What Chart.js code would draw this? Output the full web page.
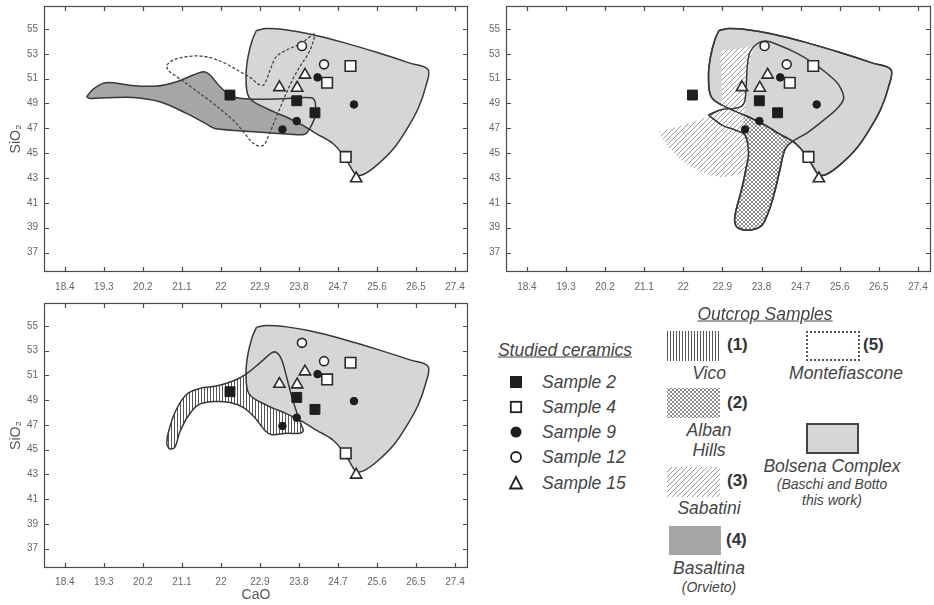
<!DOCTYPE html>
<html>
<head>
<meta charset="utf-8">
<script src="https://cdn.jsdelivr.net/npm/chart.js@4.4.1/dist/chart.umd.min.js"></script>
<style>
  body { margin: 0; background: #fff; width: 934px; height: 605px; position: relative; overflow: hidden;
         font-family: "Liberation Sans", Arial, sans-serif; }
  canvas { position: absolute; }
  .lg { position: absolute; color: #444; font-style: italic; white-space: nowrap; transform: translate(-50%, -50%); }
  .lft { transform: translate(0, -50%); }
  .hd { font-size: 17.5px; text-decoration: underline; }
  .it { font-size: 17.5px; }
  .sm { font-size: 14px; }
  .num { font-style: normal; font-weight: bold; font-size: 17px; color: #333; }
  .sw { position: absolute; box-sizing: border-box; }
</style>
</head>
<body>
<canvas id="c1" width="470" height="300" style="left:0;top:0"></canvas>
<canvas id="c2" width="472" height="300" style="left:462px;top:0"></canvas>
<canvas id="c3" width="470" height="305" style="left:0;top:300px"></canvas>
<div id="legend"></div>
<script>
// CaO (x) vs SiO2 (y) - studied ceramics against outcrop fields

const xTicks = [18.4, 19.3, 20.2, 21.1, 22, 22.9, 23.8, 24.7, 25.6, 26.5, 27.4];
const yTicks = [37, 39, 41, 43, 45, 47, 49, 51, 53, 55];

// studied ceramics [CaO, SiO2]
const sample2 = [[22.21, 49.68], [23.75, 49.22], [24.17, 48.25]];
const sample4 = [[24.99, 52.02], [24.45, 50.67], [24.88, 44.70]];
const sample9 = [[24.23, 51.10], [25.07, 48.92], [23.75, 47.58], [23.42, 46.91]];
const sample12 = [[23.87, 53.63], [24.38, 52.15]];
const sample15 = [[23.94, 51.30], [23.35, 50.30], [23.76, 50.25], [25.12, 42.96]];

// outcrop fields (outline vertices)
const bolsena = [[22.82, 54.88], [23.05, 55.03], [23.52, 54.92], [24.05, 54.6], [24.82, 53.92], [25.59, 53.12],
  [26.36, 52.25], [26.78, 51.72], [26.72, 50.3], [26.55, 48.6], [26.3, 47.0], [25.98, 45.35], [25.62, 44.1],
  [25.3, 43.3], [25.12, 43.25], [24.98, 43.95], [24.86, 44.65], [24.59, 45.76], [24.21, 46.56], [23.86, 47.3],
  [23.52, 47.89], [23.05, 48.6], [22.65, 49.5], [22.58, 51.23], [22.63, 52.84], [22.73, 54.17], [22.82, 54.88]];

const basaltina = [[18.90, 49.54], [19.05, 50.13], [19.28, 50.62], [19.52, 50.67], [19.90, 50.46], [20.52, 50.40],
  [20.98, 50.75], [21.36, 51.29], [21.61, 51.56], [21.75, 51.29], [21.98, 50.35], [22.28, 49.54], [22.75, 49.35],
  [23.44, 49.38], [24.09, 49.46], [24.18, 49.01], [24.17, 47.93], [24.05, 46.99], [23.94, 46.53], [23.59, 46.53],
  [22.75, 46.72], [21.86, 46.99], [21.71, 47.26], [21.21, 48.20], [20.59, 49.14], [19.98, 49.49], [19.36, 49.46],
  [18.98, 49.41], [18.90, 49.54]];

const montefiascone = [[20.75, 52.10], [20.90, 52.50], [21.21, 52.77], [21.52, 52.82], [21.82, 52.63], [22.13, 52.18],
  [22.44, 51.56], [22.71, 51.02], [22.86, 50.56], [22.98, 50.48], [23.05, 50.89], [23.15, 51.83], [23.28, 52.77],
  [23.52, 53.31], [23.78, 53.71], [23.98, 54.17], [24.15, 54.60], [24.13, 53.98], [24.02, 53.04], [23.82, 51.96],
  [23.63, 50.75], [23.44, 49.27], [23.25, 47.66], [23.09, 46.32], [22.99, 45.65], [22.86, 45.59], [22.71, 45.91],
  [22.55, 46.59], [22.28, 47.66], [21.82, 49.01], [21.36, 50.22], [20.98, 51.16], [20.78, 51.69], [20.75, 52.10]];

const vico = [[20.75, 45.46], [20.78, 46.27], [20.94, 48.00], [21.21, 49.47], [21.52, 49.95], [21.90, 50.14],
  [22.28, 50.54], [22.59, 51.13], [22.90, 52.01], [23.17, 52.81], [23.28, 52.86], [23.40, 52.28], [23.52, 50.81],
  [23.63, 49.34], [23.75, 48.00], [23.86, 46.93], [23.90, 46.53], [23.82, 46.32], [23.52, 46.32], [23.17, 46.21],
  [23.02, 46.53], [22.78, 47.60], [22.52, 48.40], [22.21, 48.80], [21.82, 48.88], [21.48, 48.62], [21.25, 47.74],
  [21.05, 46.40], [20.94, 45.20], [20.82, 45.06], [20.75, 45.46]];

const albanHills = [[22.58, 48.07], [22.89, 48.52], [23.16, 48.60], [23.35, 48.79], [23.42, 49.28], [23.45, 50.62],
  [23.48, 52.23], [23.54, 53.17], [23.69, 53.79], [23.89, 54.03], [24.19, 53.71], [24.62, 53.04], [25.00, 52.23],
  [25.35, 51.29], [25.58, 50.48], [25.69, 49.41], [25.54, 48.60], [25.23, 47.66], [24.85, 46.64], [24.50, 45.92],
  [24.34, 45.30], [24.22, 43.60], [24.07, 41.45], [23.92, 39.90], [23.78, 39.10], [23.50, 38.80], [23.25, 39.00],
  [23.18, 39.60], [23.22, 40.50], [23.35, 42.20], [23.45, 43.90], [23.50, 45.00], [23.42, 46.45], [23.19, 46.86],
  [22.89, 47.26], [22.58, 48.07]];

const sabatini = [[21.45, 46.72], [21.81, 47.07], [22.19, 47.45], [22.58, 48.01], [22.81, 48.42], [22.88, 49.01],
  [22.88, 51.16], [22.89, 53.17], [23.19, 53.36], [23.58, 53.44], [23.51, 52.23], [23.46, 50.35], [23.44, 49.01],
  [23.39, 47.88], [23.42, 46.45], [23.50, 45.65], [23.48, 44.44], [23.35, 43.50], [23.00, 43.09], [22.54, 43.31],
  [22.08, 44.11], [21.69, 45.38], [21.46, 46.45], [21.45, 46.72]];

const FONT = '"Liberation Sans", Arial, sans-serif';

// small pixel tiles for the hatched fields
function makePattern(kind) {
  const c = document.createElement('canvas');
  const s = kind === 'vert' ? 3 : (kind === 'cross' ? 4 : 5);
  c.width = s; c.height = s;
  const g = c.getContext('2d');
  g.fillStyle = '#fff';
  g.fillRect(0, 0, s, s);
  if (kind === 'vert') {
    g.fillStyle = '#555';
    g.fillRect(0, 0, 1, s);
  } else if (kind === 'cross') {
    g.fillStyle = '#8c8c8c';
    for (let i = 0; i < s; i++) {
      g.fillRect(i, i, 1, 1);
      g.fillRect(i, s - 1 - i, 1, 1);
    }
  } else {
    g.fillStyle = '#9a9a9a';
    for (let i = 0; i < s; i++) g.fillRect(i, s - 1 - i, 1, 1);
  }
  return c;
}

const tiles = { vert: makePattern('vert'), cross: makePattern('cross'), diag: makePattern('diag') };
const ptCtx = document.createElement('canvas').getContext('2d');
const vertFill = ptCtx.createPattern(tiles.vert, 'repeat');
const crossFill = ptCtx.createPattern(tiles.cross, 'repeat');
const diagFill = ptCtx.createPattern(tiles.diag, 'repeat');

const BOLSENA_GRAY = '#d6d6d6';
const BASALT_GRAY = '#a6a6a6';
const EDGE = '#383838';

function toXY(arr) {
  return arr.map(p => ({ x: p[0], y: p[1] }));
}

function area(arr, fillStyle, order, extra) {
  return Object.assign({
    type: 'line',
    data: toXY(arr),
    showLine: true,
    fill: 'shape',
    backgroundColor: fillStyle,
    borderColor: EDGE,
    borderWidth: 1.5,
    pointRadius: 0,
    tension: 0.35,
    order: order
  }, extra || {});
}

function outline(arr, order, extra) {
  return area(arr, 'rgba(0,0,0,0)', order, Object.assign({ fill: false }, extra || {}));
}

function sampleSets() {
  return [
    { data: toXY(sample15), pointStyle: 'triangle', pointRadius: 6.5, backgroundColor: '#fff', borderColor: '#2a2a2a', borderWidth: 1.6, order: 1 },
    { data: toXY(sample12), pointStyle: 'circle', pointRadius: 4.5, backgroundColor: '#fff', borderColor: '#2a2a2a', borderWidth: 1.6, order: 1 },
    { data: toXY(sample9), pointStyle: 'circle', pointRadius: 3.8, backgroundColor: '#1e1e1e', borderColor: '#1e1e1e', borderWidth: 1, order: 1 },
    { data: toXY(sample4), pointStyle: 'rect', pointRadius: 7.5, backgroundColor: '#fff', borderColor: '#2a2a2a', borderWidth: 1.6, order: 1 },
    { data: toXY(sample2), pointStyle: 'rect', pointRadius: 7, backgroundColor: '#1e1e1e', borderColor: '#1e1e1e', borderWidth: 1, order: 1 }
  ];
}

// frame with inward ticks on all four sides
const boxPlugin = {
  id: 'box',
  afterDatasetsDraw(chart) {
    const { ctx, chartArea: a, scales: { x, y } } = chart;
    ctx.save();
    ctx.strokeStyle = '#4a4a4a';
    ctx.lineWidth = 1.2;
    ctx.strokeRect(a.left + 0.5, a.top + 0.5, a.right - a.left - 1, a.bottom - a.top - 1);
    ctx.beginPath();
    x.ticks.forEach((t, i) => {
      const px = Math.round(x.getPixelForTick(i)) + 0.5;
      ctx.moveTo(px, a.bottom); ctx.lineTo(px, a.bottom - 5);
      ctx.moveTo(px, a.top); ctx.lineTo(px, a.top + 5);
    });
    y.ticks.forEach((t, i) => {
      const py = Math.round(y.getPixelForTick(i)) + 0.5;
      ctx.moveTo(a.left, py); ctx.lineTo(a.left + 5, py);
      ctx.moveTo(a.right, py); ctx.lineTo(a.right - 5, py);
    });
    ctx.stroke();
    ctx.restore();
  }
};

function makeChart(id, layers, cfg) {
  return new Chart(document.getElementById(id), {
    type: 'scatter',
    data: { datasets: layers.concat(sampleSets()) },
    options: {
      responsive: false,
      animation: false,
      events: [],
      layout: { padding: cfg.pad, autoPadding: false },
      plugins: { legend: { display: false }, tooltip: { enabled: false } },
      scales: {
        x: {
          type: 'linear',
          min: 17.92,
          max: 27.70,
          afterBuildTicks: s => { s.ticks = xTicks.map(v => ({ value: v })); },
          afterFit: s => { s.height = cfg.xh; s.paddingLeft = 0; s.paddingRight = 0; },
          grid: { display: false, drawTicks: false },
          border: { display: false },
          ticks: {
            autoSkip: false, maxRotation: 0, padding: cfg.xpad,
            color: '#666', font: { size: 10, family: FONT },
            callback: v => String(v)
          },
          title: {
            display: !!cfg.xTitle, text: 'CaO', color: '#555',
            font: { size: 14, family: FONT }, padding: { top: 0, bottom: 1 }
          }
        },
        y: {
          type: 'linear',
          min: 35.43,
          max: 56.85,
          afterBuildTicks: s => { s.ticks = yTicks.map(v => ({ value: v })); },
          afterFit: s => { s.width = 44; s.paddingTop = 0; s.paddingBottom = 0; },
          grid: { display: false, drawTicks: false },
          border: { display: false },
          ticks: {
            autoSkip: false, padding: 6,
            color: '#666', font: { size: 10, family: FONT },
            callback: v => String(v)
          },
          title: {
            display: !!cfg.yTitle, text: 'SiO₂', color: '#555',
            font: { size: 14, family: FONT }, padding: { top: 8, bottom: 0 }
          }
        }
      }
    },
    plugins: [boxPlugin]
  });
}

// top-left: Basaltina, Montefiascone, Bolsena
makeChart('c1', [
  area(basaltina, BASALT_GRAY, 10, { borderWidth: 0 }),
  area(bolsena, BOLSENA_GRAY, 9),
  outline(basaltina, 8),
  outline(montefiascone, 7, { borderDash: [3, 2], borderWidth: 1.3, borderColor: '#444' })
], { pad: { left: 0, top: 6, right: 2, bottom: 0 }, xh: 28, xpad: 9, yTitle: true });

// top-right: Alban Hills, Sabatini, Bolsena
makeChart('c2', [
  area(albanHills, crossFill, 10),
  area(bolsena, BOLSENA_GRAY, 9),
  area(sabatini, diagFill, 8, { borderWidth: 0 }),
  outline(albanHills, 7),
  outline(bolsena, 6)
], { pad: { left: 0, top: 6, right: 3, bottom: 0 }, xh: 28, xpad: 9 });

// bottom-left: Vico, Bolsena
makeChart('c3', [
  area(vico, vertFill, 10, { borderWidth: 0 }),
  area(bolsena, BOLSENA_GRAY, 9),
  outline(vico, 8)
], { pad: { left: 0, top: 3, right: 2, bottom: 0 }, xh: 37, xpad: 8, xTitle: true, yTitle: true });

// legend
const legend = document.getElementById('legend');

function text(str, cx, cy, cls) {
  const d = document.createElement('div');
  d.className = 'lg ' + cls;
  d.textContent = str;
  d.style.left = cx + 'px';
  d.style.top = cy + 'px';
  legend.appendChild(d);
  return d;
}

function swatch(left, top, w, h, css) {
  const d = document.createElement('div');
  d.className = 'sw';
  d.style.cssText += `left:${left}px;top:${top}px;width:${w}px;height:${h}px;` + css;
  legend.appendChild(d);
}

function marker(svgInner, cx, cy) {
  const d = document.createElement('div');
  d.style.cssText = `position:absolute;left:${cx - 8}px;top:${cy - 8}px;width:16px;height:16px;`;
  d.innerHTML = `<svg width="16" height="16" viewBox="0 0 16 16">${svgInner}</svg>`;
  legend.appendChild(d);
}

text('Studied ceramics', 565, 350, 'hd');
const sampleNames = ['Sample 2', 'Sample 4', 'Sample 9', 'Sample 12', 'Sample 15'];
const sampleRowY = [382, 407, 432, 457, 483];
const sampleIcons = [
  '<rect x="2" y="2" width="12" height="12" fill="#1e1e1e"/>',
  '<rect x="2.8" y="2.8" width="10.4" height="10.4" fill="#fff" stroke="#222" stroke-width="1.8"/>',
  '<circle cx="8" cy="8" r="5.5" fill="#1e1e1e"/>',
  '<circle cx="8" cy="8" r="5" fill="#fff" stroke="#222" stroke-width="1.8"/>',
  '<polygon points="8,2 14,13.5 2,13.5" fill="#fff" stroke="#222" stroke-width="1.8"/>'
];
sampleNames.forEach((n, i) => {
  marker(sampleIcons[i], 516, sampleRowY[i]);
  text(n, 542, sampleRowY[i], 'it lft');
});

text('Outcrop Samples', 765, 314, 'hd');

swatch(667, 331, 52, 30, `background:url(${tiles.vert.toDataURL()});`);
text('(1)', 727, 345, 'num lft');
text('Vico', 709, 373, 'it');

swatch(667, 388, 53, 30, `background:url(${tiles.cross.toDataURL()});`);
text('(2)', 727, 403, 'num lft');
text('Alban', 709, 430, 'it');
text('Hills', 709, 450, 'it');

swatch(667, 467, 53, 30, `background:url(${tiles.diag.toDataURL()});`);
text('(3)', 727, 481, 'num lft');
text('Sabatini', 709, 508, 'it');

swatch(669, 526, 52, 29, `background:${BASALT_GRAY};`);
text('(4)', 726, 540, 'num lft');
text('Basaltina', 709, 568, 'it');
text('(Orvieto)', 709, 587, 'sm');

swatch(806, 331, 54, 30, 'border:2px dotted #555;background:#fff;');
text('(5)', 863, 345, 'num lft');
text('Montefiascone', 846, 373, 'it');

swatch(806, 423, 53, 31, `border:2px solid #444;background:${BOLSENA_GRAY};`);
text('Bolsena Complex', 832, 466, 'it');
text('(Baschi and Botto', 832, 484, 'sm');
text('this work)', 832, 500, 'sm');
</script>
</body>
</html>
